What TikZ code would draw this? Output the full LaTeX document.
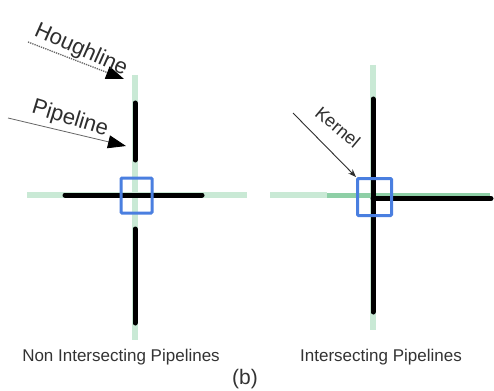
\documentclass[tikz,border=0pt]{standalone}
\usepackage{fontspec}
\setmainfont{Liberation Sans}
\usetikzlibrary{arrows.meta}
\definecolor{lgreen}{HTML}{C9E9D5}
\definecolor{mgreen}{HTML}{8ECFA6}
\definecolor{kblue}{HTML}{4A7FE0}
\definecolor{ptr}{HTML}{2E2E2E}
\tikzset{
  faint/.style={draw=lgreen,line width=6pt},
  mid/.style={draw=mgreen,line width=5pt},
  pipe/.style={draw=black,line width=5pt,line cap=round},
  kbox/.style={draw=kblue,line width=3pt,rounded corners=1pt},
  lbl/.style={inner sep=0pt,text=ptr},
  caption/.style={inner sep=0pt,font=\fontsize{17}{19}\selectfont,text=black!80},
  bigtip/.style={-{Triangle[length=18pt,width=13pt,color=black]}},
}
\begin{document}
\begin{tikzpicture}[x=1pt,y=-1pt]
\useasboundingbox[fill=white] (0,0) rectangle (494,390);
% ---------- left cross ----------
\draw[faint] (135,75) -- (135,340);
\draw[faint] (27,195) -- (247,195);
\draw[pipe] (135,103) -- (135,160);
\draw[pipe] (135,229) -- (135,323);
\draw[pipe] (65,195) -- (202,195);
\node[kbox,minimum width=31pt,minimum height=35pt,inner sep=0pt] (boxL) at (136.5,195.5) {};
% ---------- right cross ----------
\draw[faint] (373,65) -- (373,330);
\draw[faint] (270,195) -- (327,195);
\draw[mid] (327,195) -- (490,195);
\draw[pipe] (373,99) -- (373,312);
\draw[pipe] (373,198.5) -- (491,198.5);
\node[kbox,minimum width=34pt,minimum height=37pt,inner sep=0pt] (boxR) at (374.5,197) {};
% ---------- labels and pointers ----------
\coordinate (hs) at (28,42);
\coordinate (ht) at (124,79);
\draw[bigtip,draw=gray!80!black,densely dotted,line width=1.3pt] (hs) -- (ht);
\node[lbl,font=\fontsize{22}{24}\selectfont,rotate=-24] (hough) at (81,50) {Houghline};
\coordinate (ps) at (8,118);
\coordinate (pt) at (126,146);
\draw[bigtip,draw=gray!80!black,line width=0.8pt] (ps) -- (pt);
\node[lbl,font=\fontsize{22}{24}\selectfont,rotate=-17] (pipe) at (70,119) {Pipeline};
\coordinate (ks) at (293,113);
\draw[-{Stealth[length=8pt,width=6pt]},draw=ptr,line width=0.9pt] (ks) -- (boxR.north west);
\node[lbl,font=\fontsize{18}{20}\selectfont,rotate=-40] (kern) at (338,127) {Kernel};
% ---------- captions ----------
\node[caption] (capL) at (121,357) {Non Intersecting Pipelines};
\node[caption] (capR) at (381,357) {Intersecting Pipelines};
\node[caption,font=\fontsize{21}{23}\selectfont] (capB) at (245,379) {(b)};
\end{tikzpicture}
\end{document}
